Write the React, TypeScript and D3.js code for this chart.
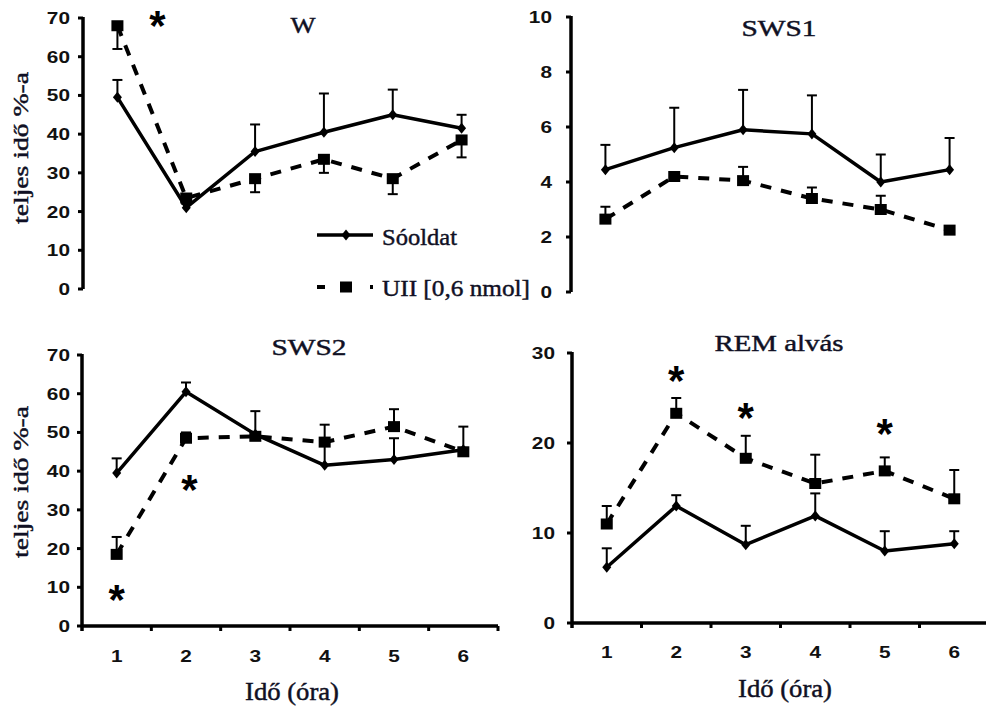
import React from 'react';
import * as d3 from 'd3';

// ---------- data ----------
const hours = [1, 2, 3, 4, 5, 6];
const seriesNames = ['Sóoldat', 'UII [0,6 nmol]'];
const xAxisLabel = 'Idő (óra)';
const yAxisLabel = 'teljes idő %-a';

// W
const wSaline = [49.5, 21, 35.5, 40.5, 45, 41.5];
const wSalineSem = [4.5, 1, 7, 10, 6.5, 3.5];
const wUII = [68, 23.5, 28.5, 33.5, 28.5, 38.5];
const wUIISem = [6, 1, 3.5, 3.5, 4, 4.5];
const wTicks = [0, 10, 20, 30, 40, 50, 60, 70];
const wStars: [number, number][] = [[1.58, 70]];

// SWS1
const sws1Saline = [4.45, 5.25, 5.9, 5.75, 4.0, 4.45];
const sws1SalineSem = [0.9, 1.45, 1.45, 1.4, 1.0, 1.15];
const sws1UII = [2.65, 4.2, 4.05, 3.4, 3.0, 2.25];
const sws1UIISem = [0.45, 0.15, 0.5, 0.4, 0.5, 0.05];
const sws1Ticks = [0, 2, 4, 6, 8, 10];
const sws1Stars: [number, number][] = [];

// SWS2
const sws2Saline = [39.5, 60.5, 49.5, 41.5, 43, 45.5];
const sws2SalineSem = [3.8, 2.4, 6, 10.5, 5.5, 6];
const sws2UII = [18.5, 48.5, 49, 47.5, 51.5, 45];
const sws2UIISem = [4.5, 1.5, 1, 1, 4.5, 1];
const sws2Ticks = [0, 10, 20, 30, 40, 50, 60, 70];
const sws2Stars: [number, number][] = [[1, 8.8], [2.05, 37.2]];

// REM
const remSaline = [6.2, 13, 8.7, 11.9, 8.0, 8.8];
const remSalineSem = [2.1, 1.2, 2.1, 2.5, 2.2, 1.4];
const remUII = [11, 23.3, 18.3, 15.5, 16.9, 13.8];
const remUIISem = [2, 1.7, 2.5, 3.2, 1.5, 3.2];
const remTicks = [0, 10, 20, 30];
const remStars: [number, number][] = [[2, 27.8], [3, 23.7], [5, 21.9]];

// ---------- style ----------
const TEXT = '#101024';
const SERIF = 'Liberation Serif, DejaVu Serif, Times New Roman, serif';
const SANS = 'Liberation Sans, Arial, Helvetica, sans-serif';
const serifStroke = { stroke: TEXT, strokeWidth: 0.45 };

type Cfg = {
  title: string;
  titleX: number;
  titleY: number;
  titleLen: number;
  x0: number;
  x1: number;
  yTop: number;
  yBottom: number;
  ticks: number[];
  tickRight: number;
  saline: number[];
  salineSem: number[];
  uii: number[];
  uiiSem: number[];
  uiiDown: boolean;
  stars: [number, number][];
  xAxis: boolean;
  xLabelX?: number;
  xLabelY?: number;
  tickLabelY?: number;
  yLabelY?: number;
  legend?: boolean;
};

const panels: Cfg[] = [
  {
    title: 'W', titleX: 303, titleY: 33, titleLen: 25,
    x0: 83, x1: 496, yTop: 18, yBottom: 289, ticks: wTicks, tickRight: 70,
    saline: wSaline, salineSem: wSalineSem, uii: wUII, uiiSem: wUIISem, uiiDown: true,
    stars: wStars, xAxis: false, yLabelY: 148, legend: true,
  },
  {
    title: 'SWS1', titleX: 779, titleY: 36, titleLen: 75,
    x0: 571, x1: 984, yTop: 17, yBottom: 292, ticks: sws1Ticks, tickRight: 552,
    saline: sws1Saline, salineSem: sws1SalineSem, uii: sws1UII, uiiSem: sws1UIISem, uiiDown: false,
    stars: sws1Stars, xAxis: false,
  },
  {
    title: 'SWS2', titleX: 309, titleY: 355, titleLen: 75,
    x0: 82, x1: 498, yTop: 355, yBottom: 626, ticks: sws2Ticks, tickRight: 70,
    saline: sws2Saline, salineSem: sws2SalineSem, uii: sws2UII, uiiSem: sws2UIISem, uiiDown: false,
    stars: sws2Stars, xAxis: true, xLabelX: 292, xLabelY: 700, tickLabelY: 662, yLabelY: 482,
  },
  {
    title: 'REM alvás', titleX: 779, titleY: 351, titleLen: 129,
    x0: 572, x1: 989, yTop: 353, yBottom: 623, ticks: remTicks, tickRight: 555,
    saline: remSaline, salineSem: remSalineSem, uii: remUII, uiiSem: remUIISem, uiiDown: false,
    stars: remStars, xAxis: true, xLabelX: 785, xLabelY: 697, tickLabelY: 658,
  },
];

const diamond = 'M0,-5.5 L4.5,0 L0,5.5 L-4.5,0 Z';

function Panel({ c }: { c: Cfg }) {
  const x = d3.scaleBand<number>().domain(hours).range([c.x0, c.x1]);
  const bw = x.bandwidth();
  const cx = (h: number) => (x(1) as number) + bw / 2 + (h - 1) * bw;
  const yMax = d3.max(c.ticks) as number;
  const y = d3.scaleLinear().domain([0, yMax]).range([c.yBottom, c.yTop]);
  const line = d3
    .line<number>()
    .x((_, i) => cx(hours[i]))
    .y((d) => y(d));
  const axisX = c.x0;
  const axisBottom = c.xAxis ? c.yBottom + 5 : c.yBottom;

  const errBar = (v: number, s: number, h: number, down: boolean, key: string) => {
    const end = down ? v - s : v + s;
    return (
      <g key={key} stroke="#000" strokeWidth={2}>
        <line x1={cx(h)} x2={cx(h)} y1={y(v)} y2={y(end)} />
        <line x1={cx(h) - 5} x2={cx(h) + 5} y1={y(end)} y2={y(end)} />
      </g>
    );
  };

  return (
    <g>
      <text
        x={c.titleX - c.titleLen / 2}
        y={c.titleY}
        fontFamily={SERIF}
        fontSize={24}
        fill={TEXT}
        {...serifStroke}
        textLength={c.titleLen}
        lengthAdjust="spacingAndGlyphs"
      >
        {c.title}
      </text>

      <line x1={axisX} x2={axisX} y1={c.yTop - 1} y2={axisBottom} stroke="#000" strokeWidth={3.5} />
      {c.ticks.map((t) => (
        <g key={t}>
          <line x1={axisX - 5} x2={axisX} y1={y(t)} y2={y(t)} stroke="#000" strokeWidth={3} />
          <text
            transform={`translate(${c.tickRight},${y(t) + 6}) scale(1.3,1)`}
            textAnchor="end"
            fontFamily={SANS}
            fontWeight="bold"
            fontSize={16}
            fill="#111"
          >
            {t}
          </text>
        </g>
      ))}

      {c.xAxis && (
        <g>
          <line x1={c.x0} x2={c.x1} y1={c.yBottom} y2={c.yBottom} stroke="#000" strokeWidth={3.5} />
          {hours.map((h) => (
            <g key={h}>
              <line
                x1={(x(h) as number) + bw}
                x2={(x(h) as number) + bw}
                y1={c.yBottom}
                y2={c.yBottom + 5}
                stroke="#000"
                strokeWidth={3}
              />
              <text
                transform={`translate(${cx(h)},${c.tickLabelY}) scale(1.3,1)`}
                textAnchor="middle"
                fontFamily={SANS}
                fontWeight="bold"
                fontSize={16}
                fill="#111"
              >
                {h}
              </text>
            </g>
          ))}
          <text
            x={(c.xLabelX as number) - 47}
            y={c.xLabelY}
            fontFamily={SERIF}
            fontSize={25}
            fill={TEXT}
            {...serifStroke}
            textLength={94}
            lengthAdjust="spacingAndGlyphs"
          >
            {xAxisLabel}
          </text>
        </g>
      )}

      {c.yLabelY !== undefined && (
        <text
          transform={`translate(28,${c.yLabelY + 76}) rotate(-90)`}
          fontFamily={SERIF}
          fontSize={21}
          fill={TEXT}
          {...serifStroke}
          textLength={152}
          lengthAdjust="spacingAndGlyphs"
        >
          {yAxisLabel}
        </text>
      )}

      {hours.map((h, i) => errBar(c.saline[i], c.salineSem[i], h, false, 's' + h))}
      {hours.map((h, i) => errBar(c.uii[i], c.uiiSem[i], h, c.uiiDown, 'u' + h))}

      <path d={line(c.uii) as string} fill="none" stroke="#000" strokeWidth={4} strokeDasharray="11,10" />
      <path d={line(c.saline) as string} fill="none" stroke="#000" strokeWidth={3.5} strokeLinejoin="round" />

      {hours.map((h, i) => (
        <path key={'d' + h} d={diamond} transform={`translate(${cx(h)},${y(c.saline[i])})`} fill="#000" />
      ))}
      {hours.map((h, i) => (
        <rect key={'q' + h} x={cx(h) - 6} y={y(c.uii[i]) - 5.5} width={12} height={11} fill="#000" />
      ))}

      {c.stars.map(([h, v], i) => (
        <text
          key={'st' + i}
          x={cx(h)}
          y={y(v) + 22}
          textAnchor="middle"
          fontFamily={SANS}
          fontWeight="bold"
          fontSize={42}
          fill="#000"
        >
          *
        </text>
      ))}

      {c.legend && (
        <g>
          <line x1={317} x2={373} y1={235} y2={235} stroke="#000" strokeWidth={3.5} />
          <path d={diamond} transform="translate(346,235)" fill="#000" />
          <text x={382} y={245} fontFamily={SERIF} fontSize={24} fill={TEXT} {...serifStroke} textLength={75} lengthAdjust="spacingAndGlyphs">
            {seriesNames[0]}
          </text>
          <line x1={317} x2={325} y1={287} y2={287} stroke="#000" strokeWidth={4} />
          <rect x={340} y={281.5} width={12} height={11} fill="#000" />
          <line x1={370} x2={373} y1={287} y2={287} stroke="#000" strokeWidth={4} />
          <text x={382} y={296} fontFamily={SERIF} fontSize={24} fill={TEXT} {...serifStroke} textLength={148} lengthAdjust="spacingAndGlyphs">
            {seriesNames[1]}
          </text>
        </g>
      )}
    </g>
  );
}

export default function App() {
  return (
    <div style={{ position: 'absolute', left: 0, top: 0 }}>
      <svg width={986} height={707} style={{ display: 'block', background: '#fff' }}>
        <rect width={986} height={707} fill="#fff" />
        {panels.map((p) => (
          <Panel key={p.title} c={p} />
        ))}
      </svg>
    </div>
  );
}
